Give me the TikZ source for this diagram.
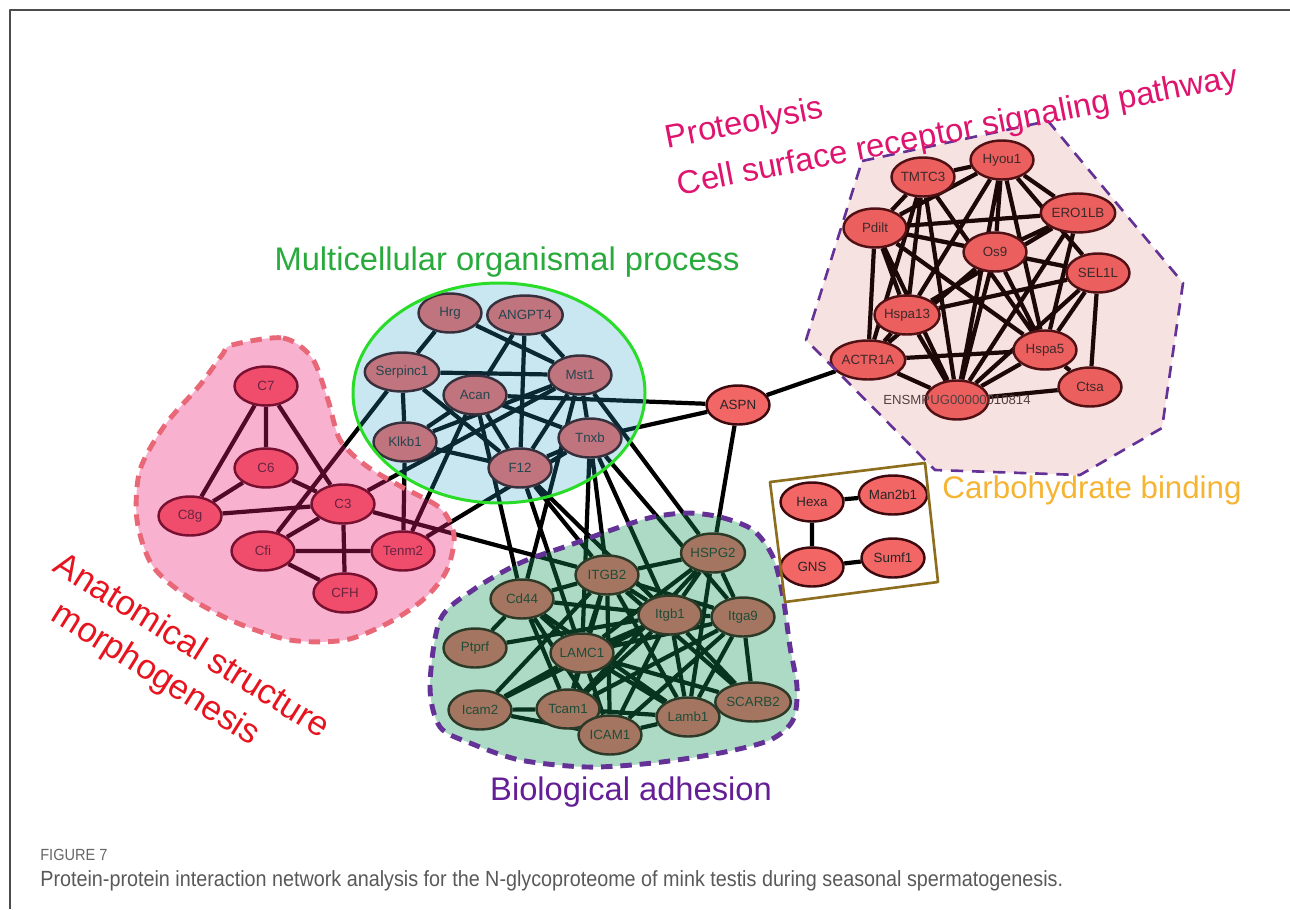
\documentclass[tikz,border=0pt]{standalone}
\usepackage{fontspec}
\setmainfont{Liberation Sans}
\newfontfamily\capfont[FakeStretch=0.9]{Liberation Sans}
\usetikzlibrary{shapes.geometric,backgrounds}

\definecolor{protfill}{RGB}{242,102,102}
\definecolor{protline}{RGB}{60,10,14}
\definecolor{pinkov}{RGB}{235,30,118}
\definecolor{blueov}{RGB}{40,160,200}
\definecolor{greenov}{RGB}{20,150,90}
\definecolor{pathov}{RGB}{200,60,60}
\definecolor{pinkdash}{RGB}{232,104,120}
\definecolor{ringgreen}{RGB}{40,220,40}
\definecolor{purpledash}{RGB}{100,50,150}
\definecolor{boxolive}{RGB}{140,110,30}
\definecolor{labmagenta}{RGB}{222,20,110}
\definecolor{labgreen}{RGB}{40,170,60}
\definecolor{labred}{RGB}{230,20,30}
\definecolor{laborange}{RGB}{245,180,50}
\definecolor{labpurple}{RGB}{100,30,150}

\begin{document}
\begin{tikzpicture}[x=0.02cm,y=-0.02cm,line join=round,
  prot/.style={ellipse,draw=protline,line width=1.4pt,fill=protfill,minimum width=1.26cm,
    minimum height=0.78cm,inner sep=0pt,text=black!85,font=\fontsize{7.6}{8}\selectfont},
  link/.style={line width=2.4pt,black},
  golabel/.style={inner sep=0pt,font=\fontsize{18.6}{22}\selectfont}]
\useasboundingbox (0,0) rectangle (1290,909);
\draw[black!70,line width=1.1pt] (10,909) -- (10,10) -- (1290,10);

% proteolysis / signaling cluster
\node[prot] (hyou) at (1002,160) {Hyou1};
\node[prot] (tmtc) at (923,177) {TMTC3};
\node[prot] (ero) at (1078,213) {ERO1LB};
\node[prot] (pdilt) at (875,228) {Pdilt};
\node[prot] (os9) at (995,252) {Os9};
\node[prot] (sel) at (1098,273) {SEL1L};
\node[prot] (hspat) at (907,315) {Hspa13};
\node[prot] (hspa) at (1045,350) {Hspa5};
\node[prot] (actr) at (868,360) {ACTR1A};
\node[prot,label={[text=black!75,font=\fontsize{7.5}{8}\selectfont]center:ENSMPUG00000010814}] (ens) at (957,400) {};
\node[prot] (ctsa) at (1090,387) {Ctsa};
\node[prot] (aspn) at (738,405) {ASPN};

% multicellular cluster
\node[prot] (hrg) at (450,313) {Hrg};
\node[prot] (angpt) at (525,315) {ANGPT4};
\node[prot] (serp) at (402,372) {Serpinc1};
\node[prot] (mst) at (580,375) {Mst1};
\node[prot] (acan) at (475,395) {Acan};
\node[prot] (klkb) at (405,442) {Klkb1};
\node[prot] (tnxb) at (590,438) {Tnxb};
\node[prot] (f12) at (520,468) {F12};

% morphogenesis cluster
\node[prot] (c7) at (266,386) {C7};
\node[prot] (c6) at (266,468) {C6};
\node[prot] (c8g) at (190,516) {C8g};
\node[prot] (c3) at (343,504) {C3};
\node[prot] (cfi) at (263,551) {Cfi};
\node[prot] (tenm) at (403,551) {Tenm2};
\node[prot] (cfh) at (345,593) {CFH};

% adhesion cluster
\node[prot] (hspg) at (713,553) {HSPG2};
\node[prot] (itgb2) at (607,575) {ITGB2};
\node[prot] (cd44) at (522,599) {Cd44};
\node[prot] (itgb1) at (670,615) {Itgb1};
\node[prot] (itga9) at (743,617) {Itga9};
\node[prot] (ptprf) at (475,648) {Ptprf};
\node[prot] (lamc) at (582,653) {LAMC1};
\node[prot] (icam2) at (480,710) {Icam2};
\node[prot] (tcam) at (568,709) {Tcam1};
\node[prot] (icam1) at (610,735) {ICAM1};
\node[prot] (lamb) at (688,717) {Lamb1};
\node[prot] (scarb) at (753,702) {SCARB2};

% carbohydrate binding
\node[prot] (hexa) at (812,502) {Hexa};
\node[prot] (man) at (893,495) {Man2b1};
\node[prot] (gns) at (812,567) {GNS};
\node[prot] (sumf) at (893,558) {Sumf1};

% interactions, kept under the proteins
\begin{pgfonlayer}{background}
\draw[link] (hyou) -- (tmtc) (hyou) -- (ero) (hyou) -- (pdilt) (hyou) -- (os9) (hyou) -- (sel)
  (hyou) -- (hspat) (hyou) -- (hspa) (hyou) -- (ens) (tmtc) -- (pdilt) (tmtc) -- (hspat)
  (tmtc) -- (ens) (tmtc) -- (hspa) (tmtc) -- (actr) (ero) -- (pdilt) (ero) -- (hspa)
  (ero) -- (ens) (ero) -- (hspat) (ero) -- (os9) (pdilt) -- (os9) (pdilt) -- (hspat)
  (pdilt) -- (hspa) (pdilt) -- (actr) (pdilt) -- (ens) (pdilt) -- (sel) (os9) -- (sel)
  (os9) -- (hspa) (os9) -- (ens) (os9) -- (actr) (sel) -- (hspat) (sel) -- (hspa)
  (sel) -- (ctsa) (sel) -- (ens) (hspat) -- (actr) (hspat) -- (ens) (hspa) -- (actr)
  (hspa) -- (ens) (hspa) -- (ctsa) (actr) -- (ens) (ens) -- (ctsa);
\draw[link] (aspn) -- (actr) (aspn) -- (hspg) (acan) -- (aspn) (tnxb) -- (aspn);
\draw[link] (hrg) -- (serp) (hrg) -- (mst) (angpt) -- (mst) (angpt) -- (acan) (angpt) -- (f12)
  (serp) -- (mst) (serp) -- (klkb) (serp) -- (f12) (klkb) -- (acan) (klkb) -- (mst)
  (klkb) -- (f12) (acan) -- (tnxb) (acan) -- (f12) (mst) -- (tnxb) (mst) -- (f12) (f12) -- (tnxb);
\draw[link] (c7) -- (c6) (c7) -- (c8g) (c7) -- (c3) (c6) -- (c8g) (c6) -- (c3) (c8g) -- (c3)
  (c3) -- (cfi) (c3) -- (cfh) (cfi) -- (tenm) (cfi) -- (cfh);
\draw[link] (cfi) -- (serp) (c3) -- (mst) (c3) -- (itgb2) (tenm) -- (klkb) (tenm) -- (acan)
  (tenm) -- (tnxb) (acan) -- (cd44) (mst) -- (cd44) (f12) -- (itgb2) (f12) -- (itgb1)
  (f12) -- (lamc) (tnxb) -- (itgb2) (tnxb) -- (itgb1) (tnxb) -- (lamc) (tnxb) -- (itga9)
  (mst) -- (hspg);
\draw[link] (hspg) -- (itgb2) (hspg) -- (itgb1) (hspg) -- (itga9) (hspg) -- (lamc)
  (hspg) -- (lamb) (hspg) -- (tcam) (itgb2) -- (cd44) (itgb2) -- (itgb1) (itgb2) -- (lamc)
  (itgb2) -- (icam2) (itgb2) -- (tcam) (itgb2) -- (icam1) (itgb2) -- (lamb) (itgb2) -- (scarb)
  (itgb2) -- (itga9) (cd44) -- (ptprf) (cd44) -- (itgb1) (cd44) -- (lamc) (cd44) -- (tcam)
  (cd44) -- (icam1) (cd44) -- (lamb) (itgb1) -- (lamc) (itgb1) -- (ptprf) (itgb1) -- (icam2)
  (itgb1) -- (tcam) (itgb1) -- (icam1) (itgb1) -- (lamb) (itgb1) -- (itga9) (itgb1) -- (scarb)
  (itga9) -- (lamc) (itga9) -- (lamb) (itga9) -- (scarb) (itga9) -- (icam1) (itga9) -- (tcam)
  (lamc) -- (lamb) (lamc) -- (icam2) (lamc) -- (tcam) (lamc) -- (icam1) (lamc) -- (scarb)
  (icam2) -- (tcam) (icam2) -- (icam1) (tcam) -- (lamb) (icam1) -- (lamb);
\draw[link] (hexa) -- (man) (hexa) -- (gns) (gns) -- (sumf);
\end{pgfonlayer}

% cluster shapes
\draw[purpledash,line width=1.5pt,dash pattern=on 7pt off 5pt,fill=pathov,fill opacity=0.15]
  (862,161) -- (1048,121) -- (1183,283) -- (1162,428) -- (1080,475) -- (935,470) -- (806,340) -- cycle;
\draw[ringgreen,line width=1.7pt,fill=blueov,fill opacity=0.25] (499,393) ellipse [x radius=146,y radius=110];
\draw[pinkdash,line width=2.8pt,dash pattern=on 6.5pt off 4.5pt,fill=pinkov,fill opacity=0.34]
  plot[smooth cycle] coordinates {(232,345) (283,338) (312,358) (328,400) (340,440) (365,465)
  (400,486) (440,508) (454,535) (447,570) (425,598) (390,622) (345,640) (290,640) (235,622)
  (185,595) (152,565) (137,520) (140,470) (165,425) (200,385) (222,355)};
\draw[purpledash,line width=2.8pt,dash pattern=on 6.5pt off 4.5pt,fill=greenov,fill opacity=0.35]
  plot[smooth cycle] coordinates {(430,687) (440,620) (473,590) (520,563) (570,545) (620,527)
  (653,517) (687,513) (720,517) (753,530) (773,557) (783,597) (790,647) (797,687) (793,720)
  (770,740) (720,753) (653,763) (587,767) (520,760) (470,743) (440,727)};
\draw[boxolive,line width=1.5pt] (770,482) -- (925,463) -- (938,582) -- (785,602) -- cycle;

% annotation texts
\node[golabel,text=labmagenta,rotate=11,anchor=west] (proteo) at (666,140) {Proteolysis};
\node[golabel,text=labmagenta,rotate=11,anchor=west] (cellsig) at (678,187) {Cell surface receptor signaling pathway};
\node[golabel,text=labgreen] (multi) at (507,262) {Multicellular organismal process};
\node[golabel,text=laborange,font=\fontsize{17.8}{21}\selectfont] (carbo) at (1092,490) {Carbohydrate binding};
\node[golabel,text=labpurple] (adhes) at (631,792) {Biological adhesion};
\node[golabel,text=labred,font=\fontsize{19.8}{23}\selectfont,rotate=-32,anchor=west] (anat) at (58,560) {Anatomical structure};
\node[golabel,text=labred,font=\fontsize{19.8}{23}\selectfont,rotate=-32,anchor=west] (morph) at (54,612) {morphogenesis};

% caption
\node[anchor=west,inner sep=0pt,text=black!60,font=\capfont\fontsize{9.2}{11}\selectfont] (fig) at (40,855) {FIGURE 7};
\node[anchor=west,inner sep=0pt,text=black!65,font=\capfont\fontsize{12.5}{14}\selectfont] (cap) at (40,881)
  {Protein-protein interaction network analysis for the N-glycoproteome of mink testis during seasonal spermatogenesis.};
\end{tikzpicture}
\end{document}
